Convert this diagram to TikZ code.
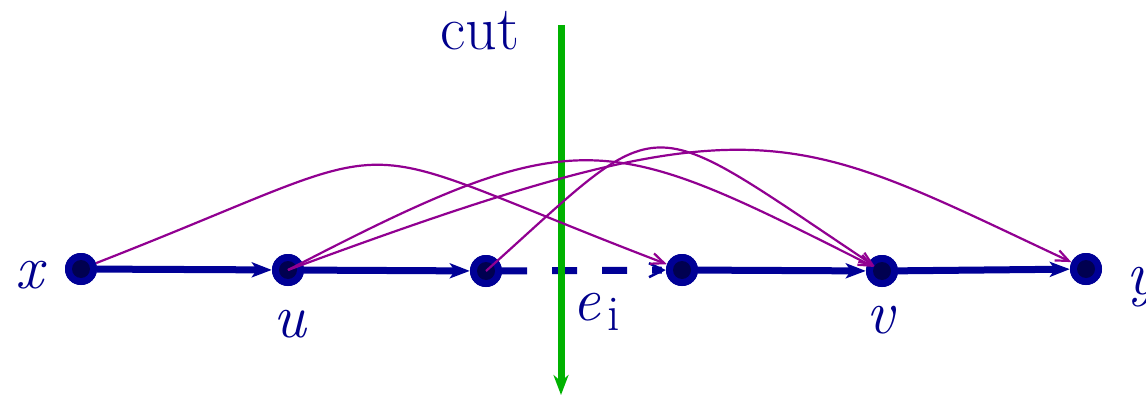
\documentclass[tikz,border=0pt]{standalone}
\usetikzlibrary{arrows.meta}
\definecolor{navy}{RGB}{0,0,150}
\definecolor{navyin}{RGB}{0,0,80}
\definecolor{txtblue}{RGB}{0,0,140}
\definecolor{purp}{RGB}{145,0,145}
\definecolor{cutgreen}{RGB}{0,178,0}
\tikzset{
  vtx/.style={circle, fill=navy, minimum size=32pt, inner sep=0pt,
    path picture={\fill[navyin] (path picture bounding box.center) circle (9pt);}},
  pathedge/.style={navy, line width=7pt, -{Stealth[length=20pt,width=15pt,inset=5pt]}},
  dashedge/.style={navy, line width=7pt, dash pattern=on 25pt off 25pt,
    -{Straight Barb[length=14pt,width=14pt,line width=2.5pt]}},
  purpedge/.style={purp, line width=2.2pt, -{Straight Barb[length=13pt,width=11pt]}},
  cutline/.style={cutgreen, line width=7pt, -{Stealth[length=20pt,width=15pt]}},
  lbl/.style={text=txtblue, inner sep=0pt, font=\fontsize{62}{62}\selectfont},
  ilbl/.style={lbl, font=\fontsize{62}{62}\selectfont\itshape}
}
\begin{document}
\begin{tikzpicture}[x=1pt,y=-1pt]
\useasboundingbox (0,0) rectangle (1146,396);
% vertices
\node[vtx] (x) at (81,269) {};
\node[vtx] (u) at (288,270) {};
\node[vtx] (w) at (486,271) {};
\node[vtx] (z) at (682,270) {};
\node[vtx] (v) at (882,271) {};
\node[vtx] (y) at (1086,269) {};
% path edges
\draw[pathedge] (x) -- (u);
\draw[pathedge] (u) -- (w);
\draw[dashedge] (w) -- (z);
\draw[pathedge] (z) -- (v);
\draw[pathedge] (v) -- (y);
% redraw vertices on top of edges
\node[vtx] at (x) {};
\node[vtx] at (u) {};
\node[vtx] at (w) {};
\node[vtx] at (z) {};
\node[vtx] at (v) {};
\node[vtx] at (y) {};
% cut
\coordinate (cuttop) at (561,25);
\coordinate (cutbot) at (561,395);
\draw[cutline] (cuttop) -- (cutbot);
% long edges
\draw[purpedge] (x) .. controls (432,132) and (321,132) .. (z);
\draw[purpedge, shorten >=9pt] (u.center) .. controls (581,118) and (604,131) .. (v.center);
\draw[purpedge] (u.center) .. controls (761,95) and (785,128) .. (y);
\draw[purpedge, shorten >=9pt] (w.center) .. controls (669,107) and (637,108) .. (v.center);
% labels
\node[ilbl, anchor=base] (lx) at (29,288) {x};
\node[ilbl, anchor=base] (lu) at (290,337) {u};
\node[ilbl, anchor=base] (lv) at (880,333) {v};
\node[ilbl, anchor=base] (ly) at (1141,294) {y};
\node[lbl, anchor=base west] (le) at (572,320) {\itshape e\upshape\kern7pt\raisebox{-10pt}{\fontsize{50}{50}\selectfont i}};
\node[lbl, anchor=base] (lcut) at (480,50) {cut};
\end{tikzpicture}
\end{document}
